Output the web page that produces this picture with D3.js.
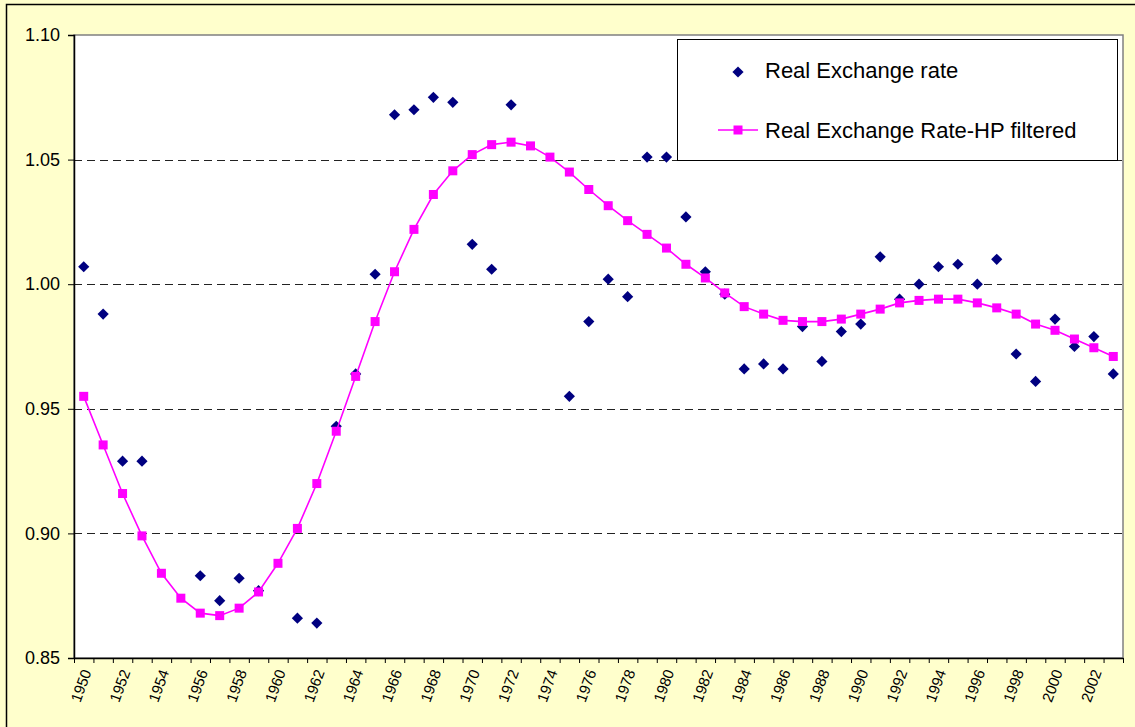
<!DOCTYPE html>
<html>
<head>
<meta charset="utf-8">
<script src="https://cdn.jsdelivr.net/npm/d3@7"></script>
<style>
  html, body { margin: 0; padding: 0; background: #FFFFCC; }
  svg { display: block; font-family: "Liberation Sans", Arial, sans-serif; }
</style>
</head>
<body>
<div id="chart"></div>
<script>
const years = d3.range(1950, 2004);

// Real exchange rate (diamonds), null where no marker is visible
const realRate = [
  1.007, 0.988, 0.929, 0.929, null, null, 0.883, 0.873, 0.882, 0.877,
  null, 0.866, 0.864, 0.943, 0.964, 1.004, 1.068, 1.070, 1.075, 1.073,
  1.016, 1.006, 1.072, null, null, 0.955, 0.985, 1.002, 0.995, 1.051,
  1.051, 1.027, 1.005, 0.996, 0.966, 0.968, 0.966, 0.983, 0.969, 0.981,
  0.984, 1.011, 0.994, 1.000, 1.007, 1.008, 1.000, 1.010, 0.972, 0.961,
  0.986, 0.975, 0.979, 0.964
];

// HP filtered trend
const hpRate = [
  0.955, 0.9355, 0.916, 0.899, 0.884, 0.874, 0.868, 0.867, 0.870, 0.8765,
  0.888, 0.902, 0.920, 0.941, 0.963, 0.985, 1.005, 1.022, 1.036, 1.0455,
  1.052, 1.056, 1.057, 1.0555, 1.051, 1.045, 1.038, 1.0315, 1.0255, 1.020,
  1.0145, 1.008, 1.0025, 0.9965, 0.991, 0.988, 0.9855, 0.985, 0.985, 0.986,
  0.988, 0.990, 0.9925, 0.9935, 0.994, 0.994, 0.9925, 0.9905, 0.988, 0.984,
  0.9815, 0.978, 0.9745, 0.971
];

const yTicks = [0.85, 0.90, 0.95, 1.00, 1.05, 1.10];
const gridTicks = [0.90, 0.95, 1.00, 1.05];
const xLabels = years.filter(y => (y - 1950) % 2 === 0);

const seriesNames = ['Real Exchange rate', 'Real Exchange Rate-HP filtered'];

const W = 1135;
const H = 727;
const plot = { left: 74, top: 35, right: 1123, bottom: 658 };

const svg = d3.select('#chart').append('svg')
  .attr('width', W)
  .attr('height', H);

// chart area
svg.append('rect')
  .attr('x', 6.5).attr('y', 4.5)
  .attr('width', W).attr('height', H)
  .attr('fill', '#FFFFCC')
  .attr('stroke', '#000')
  .attr('stroke-width', 1.5);

const x = d3.scaleLinear()
  .domain([1949.5, 2003.5])
  .range([plot.left, plot.right]);

const y = d3.scaleLinear()
  .domain([0.85, 1.10])
  .range([plot.bottom, plot.top]);

// plot area
svg.append('rect')
  .attr('x', plot.left).attr('y', plot.top)
  .attr('width', plot.right - plot.left)
  .attr('height', plot.bottom - plot.top)
  .attr('fill', '#fff')
  .attr('stroke', '#808080')
  .attr('stroke-width', 1.5);

// dashed gridlines
svg.append('g')
  .selectAll('line')
  .data(gridTicks)
  .join('line')
  .attr('x1', plot.left).attr('x2', plot.right)
  .attr('y1', d => Math.round(y(d)) + 0.5)
  .attr('y2', d => Math.round(y(d)) + 0.5)
  .attr('stroke', '#222')
  .attr('stroke-width', 1)
  .attr('stroke-dasharray', '8,5');

// y axis
const yAxis = svg.append('g')
  .attr('transform', `translate(${plot.left},0)`)
  .call(d3.axisLeft(y).tickValues(yTicks).tickFormat(d3.format('.2f')).tickSize(6).tickPadding(8));
yAxis.select('.domain').attr('stroke', '#000').attr('stroke-width', 1.5);
yAxis.selectAll('.tick line').attr('stroke', '#000');
yAxis.selectAll('.tick text')
  .attr('font-size', 18)
  .attr('fill', '#000')
  .style('font-family', '"Liberation Sans", Arial, sans-serif');

// x axis: ticks between categories
const xAxis = svg.append('g')
  .attr('transform', `translate(0,${plot.bottom})`)
  .call(d3.axisBottom(x).tickValues(d3.range(1949.5, 2004, 1)).tickFormat('').tickSize(5).tickSizeOuter(0));
xAxis.select('.domain').attr('stroke', '#000').attr('stroke-width', 1.5);
xAxis.selectAll('.tick line').attr('stroke', '#000');

svg.append('g')
  .selectAll('text')
  .data(xLabels)
  .join('text')
  .attr('transform', d => `translate(${x(d) + 3},${plot.bottom + 12}) rotate(-70)`)
  .attr('text-anchor', 'end')
  .attr('dy', '0.35em')
  .attr('font-size', 15)
  .attr('fill', '#000')
  .text(d => d);

// diamonds
const diamond = d3.symbol().type(d3.symbolDiamond2).size(80);
svg.append('g')
  .selectAll('path')
  .data(years.map((yr, i) => ({ yr, v: realRate[i] })).filter(d => d.v !== null))
  .join('path')
  .attr('d', diamond)
  .attr('transform', d => `translate(${x(d.yr)},${y(d.v)})`)
  .attr('fill', '#000080');

// HP line
const hpData = years.map((yr, i) => ({ yr, v: hpRate[i] }));
svg.append('path')
  .datum(hpData)
  .attr('d', d3.line().x(d => x(d.yr)).y(d => y(d.v)))
  .attr('fill', 'none')
  .attr('stroke', '#FF00FF')
  .attr('stroke-width', 1.6);

svg.append('g')
  .selectAll('rect')
  .data(hpData)
  .join('rect')
  .attr('x', d => x(d.yr) - 4.5)
  .attr('y', d => y(d.v) - 4.5)
  .attr('width', 9).attr('height', 9)
  .attr('fill', '#FF00FF');

// legend
const legend = svg.append('g');
legend.append('rect')
  .attr('x', 677.5).attr('y', 39.5)
  .attr('width', 440).attr('height', 121)
  .attr('fill', '#fff')
  .attr('stroke', '#000')
  .attr('stroke-width', 1);

legend.append('path')
  .attr('d', diamond)
  .attr('transform', 'translate(738,72)')
  .attr('fill', '#000080');

legend.append('line')
  .attr('x1', 718).attr('x2', 758)
  .attr('y1', 130).attr('y2', 130)
  .attr('stroke', '#FF00FF')
  .attr('stroke-width', 1.6);
legend.append('rect')
  .attr('x', 733.5).attr('y', 125.5)
  .attr('width', 9).attr('height', 9)
  .attr('fill', '#FF00FF');

legend.selectAll('text')
  .data(seriesNames)
  .join('text')
  .attr('x', 765)
  .attr('y', (d, i) => 78 + i * 60)
  .attr('font-size', 22)
  .attr('fill', '#000')
  .text(d => d);
</script>
</body>
</html>
